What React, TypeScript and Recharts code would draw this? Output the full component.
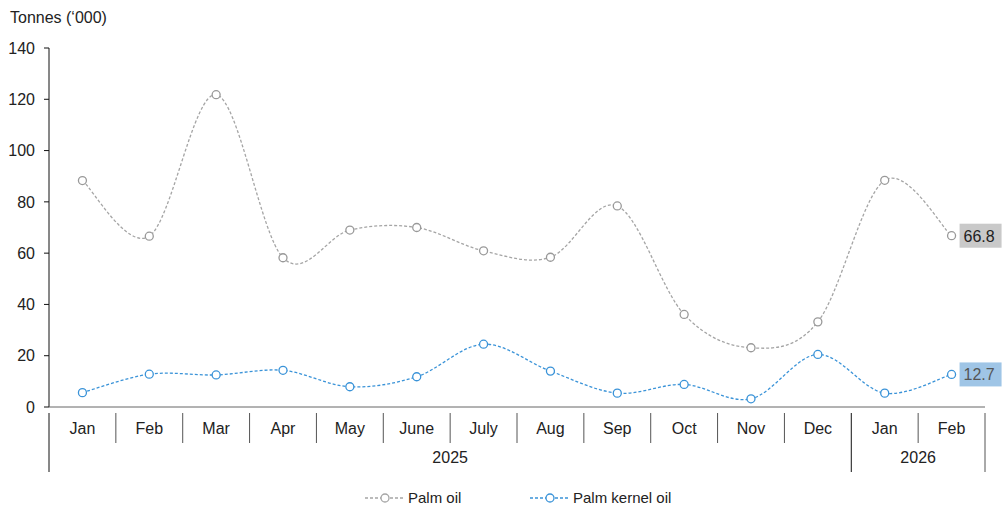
import React from 'react';
import { LineChart, Line, XAxis, YAxis, LabelList } from 'recharts';

const months = ['Jan', 'Feb', 'Mar', 'Apr', 'May', 'June', 'July', 'Aug', 'Sep', 'Oct', 'Nov', 'Dec', 'Jan', 'Feb'];
const years = ['2025', '2025', '2025', '2025', '2025', '2025', '2025', '2025', '2025', '2025', '2025', '2025', '2026', '2026'];
const palmOil = [88.3, 66.6, 121.8, 58.2, 69.0, 70.0, 60.9, 58.4, 78.4, 36.1, 23.1, 33.2, 88.4, 66.8];
const palmKernelOil = [5.6, 12.8, 12.5, 14.3, 7.9, 11.8, 24.5, 14.0, 5.4, 8.8, 3.2, 20.5, 5.4, 12.7];
const yTicks = [0, 20, 40, 60, 80, 100, 120, 140];

const GREY = '#a5a5a5';
const BLUE = '#3a93d8';
const FONT = '"Liberation Sans", Arial, sans-serif';

const W = 1002;
const H = 509;
const MARGIN = { top: 48, right: 17, left: 9, bottom: 0 };
const Y_WIDTH = 40;
const PLOT_W = W - MARGIN.left - MARGIN.right - Y_WIDTH;
const BAND = PLOT_W / months.length;

const data = months.map((m, i) => ({
  month: m,
  year: years[i],
  palm: palmOil[i],
  kernel: palmKernelOil[i],
}));

// smoothed line through every point (bezier handles at 1/6 of neighbour span)
const smoothCurve = (context: any) => {
  let pts: number[][] = [];
  return {
    areaStart() {},
    areaEnd() {},
    lineStart() {
      pts = [];
    },
    point(x: number, y: number) {
      pts.push([+x, +y]);
    },
    lineEnd() {
      if (!pts.length) return;
      context.moveTo(pts[0][0], pts[0][1]);
      for (let i = 0; i < pts.length - 1; i++) {
        const p0 = pts[i - 1] || pts[i];
        const p1 = pts[i];
        const p2 = pts[i + 1];
        const p3 = pts[i + 2] || p2;
        context.bezierCurveTo(
          p1[0] + (p2[0] - p0[0]) / 6,
          p1[1] + (p2[1] - p0[1]) / 6,
          p2[0] - (p3[0] - p1[0]) / 6,
          p2[1] - (p3[1] - p1[1]) / 6,
          p2[0],
          p2[1]
        );
      }
    },
  };
};

const MonthTick = (props: any) => {
  const { x, y, payload, index } = props;
  const left = x - BAND / 2;
  const right = x + BAND / 2;
  const yr = years[index];
  const newYear = index === 0 || years[index - 1] !== yr;
  let yearLabel = null;
  if (newYear) {
    const count = years.filter((v) => v === yr).length;
    yearLabel = (
      <text x={left + (count * BAND) / 2} y={y + 48} textAnchor="middle" fontSize={16} fill="#222" fontFamily={FONT}>
        {yr}
      </text>
    );
  }
  return (
    <g>
      <line x1={left} x2={left} y1={y - 2} y2={y + (newYear ? 57 : 28)} stroke={newYear ? '#111' : '#555'} strokeWidth={1} />
      {index === months.length - 1 && (
        <line x1={right} x2={right} y1={y - 2} y2={y + 57} stroke="#555" strokeWidth={1} />
      )}
      <text x={x} y={y + 19} textAnchor="middle" fontSize={16} fill="#222" fontFamily={FONT}>
        {payload.value}
      </text>
      {yearLabel}
    </g>
  );
};

const makeEndLabel = (bg: string, color: string) => (props: any) => {
  const { x, y, value, index } = props;
  if (index !== months.length - 1) return null;
  return (
    <g>
      <rect x={x + 8} y={y - 12} width={42} height={24} fill={bg} />
      <text x={x + 12} y={y + 6} fontSize={16} fill={color} fontFamily={FONT}>
        {Number(value).toFixed(1)}
      </text>
    </g>
  );
};

const LegendItem = ({ color, label, left }: { color: string; label: string; left: number }) => (
  <div style={{ position: 'absolute', left, top: 489, display: 'flex', alignItems: 'center', fontSize: 15, color: '#222' }}>
    <svg width={42} height={12} style={{ marginRight: 2 }}>
      <line x1={1} x2={41} y1={6} y2={6} stroke={color} strokeWidth={1.3} strokeDasharray="3 2" />
      <circle cx={21} cy={6} r={4} fill="#fff" stroke={color} strokeWidth={1.3} />
    </svg>
    {label}
  </div>
);

export default function App() {
  return (
    <div style={{ position: 'absolute', left: 0, top: 0, width: W, height: H, background: '#fff', fontFamily: FONT }}>
      <div style={{ position: 'absolute', left: 10, top: 9, fontSize: 16, color: '#222' }}>Tonnes (‘000)</div>
      <LineChart width={W} height={H} data={data} margin={MARGIN}>
        <YAxis
          width={Y_WIDTH}
          domain={[0, 140]}
          ticks={yTicks}
          interval={0}
          axisLine={{ stroke: '#111' }}
          tickLine={{ stroke: '#111' }}
          tickSize={5}
          tickMargin={9}
          tick={{ fontSize: 16, fill: '#222', fontFamily: FONT }}
        />
        <XAxis
          dataKey="month"
          padding={{ left: BAND / 2, right: BAND / 2 }}
          height={102}
          interval={0}
          axisLine={{ stroke: '#666' }}
          tickLine={false}
          tick={<MonthTick />}
        />
        <Line
          dataKey="palm"
          name="Palm oil"
          type={smoothCurve as any}
          stroke={GREY}
          strokeWidth={1.3}
          strokeDasharray="3 2"
          dot={{ r: 4, fill: '#fff', stroke: '#999', strokeWidth: 1.3, strokeDasharray: '' }}
          isAnimationActive={false}
        >
          <LabelList dataKey="palm" content={makeEndLabel('#c9c9c9', '#222')} />
        </Line>
        <Line
          dataKey="kernel"
          name="Palm kernel oil"
          type={smoothCurve as any}
          stroke={BLUE}
          strokeWidth={1.3}
          strokeDasharray="3 2"
          dot={{ r: 4, fill: '#fff', stroke: BLUE, strokeWidth: 1.3, strokeDasharray: '' }}
          isAnimationActive={false}
        >
          <LabelList dataKey="kernel" content={makeEndLabel('#9fc5e6', '#555')} />
        </Line>
      </LineChart>
      <LegendItem color={GREY} label="Palm oil" left={364} />
      <LegendItem color={BLUE} label="Palm kernel oil" left={529} />
    </div>
  );
}
